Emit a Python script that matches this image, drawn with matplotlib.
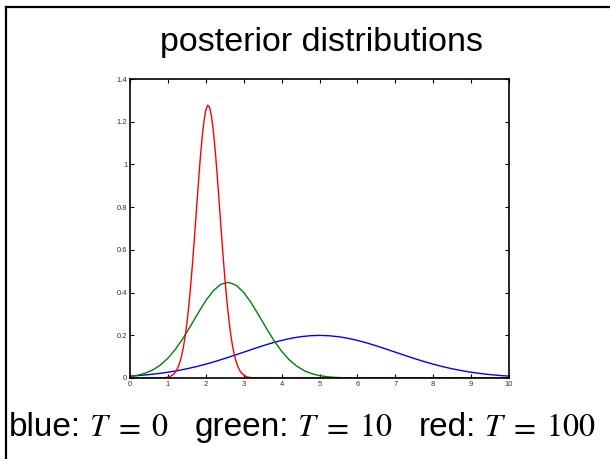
import numpy as np
import matplotlib
matplotlib.use("Agg")
import matplotlib.pyplot as plt
from matplotlib.lines import Line2D

plt.rcParams['font.family'] = ['Liberation Sans', 'DejaVu Sans']
plt.rcParams['mathtext.fontset'] = 'stix'

# values
blue_x = [0, 0.25, 0.5, 0.75, 1, 1.25, 1.5, 1.75, 2, 2.25, 2.5, 2.75, 3, 3.25, 3.5, 3.75,
          4, 4.25, 4.5, 4.75, 5, 5.25, 5.5, 5.75, 6, 6.25, 6.5, 6.75, 7, 7.25, 7.5, 7.75,
          8, 8.25, 8.5, 8.75, 9, 9.25, 9.5, 9.75, 10]
blue_y = [0.0088, 0.0119, 0.0159, 0.0209, 0.0270, 0.0344, 0.0432, 0.0533, 0.0648, 0.0775,
          0.0913, 0.1060, 0.1210, 0.1360, 0.1506, 0.1641, 0.1760, 0.1860, 0.1934, 0.1979,
          0.1995, 0.1979, 0.1934, 0.1860, 0.1760, 0.1641, 0.1506, 0.1360, 0.1210, 0.1060,
          0.0913, 0.0775, 0.0648, 0.0533, 0.0432, 0.0344, 0.0270, 0.0209, 0.0159, 0.0119, 0.0088]

green_x = [0, 0.2, 0.4, 0.6, 0.8, 1.0, 1.2, 1.4, 1.6, 1.8, 2.0, 2.2, 2.4, 2.6, 2.8, 3.0,
           3.2, 3.4, 3.6, 3.8, 4.0, 4.2, 4.4, 4.6, 4.8, 5.0, 5.2, 5.4, 5.6, 5.8, 6.0, 7, 8, 9, 10]
green_y = [0.0067, 0.0126, 0.0223, 0.0377, 0.0606, 0.0927, 0.1346, 0.1860, 0.2444, 0.3051,
           0.3623, 0.4089, 0.4390, 0.4479, 0.4345, 0.4008, 0.3515, 0.2930, 0.2323, 0.1751,
           0.1254, 0.0855, 0.0554, 0.0341, 0.0200, 0.0111, 0.0059, 0.0030, 0.0014, 0.0006,
           0.0002, 0, 0, 0, 0]

red_x = [0, 0.9, 1.0, 1.05, 1.1, 1.15, 1.2, 1.25, 1.3, 1.35, 1.4, 1.45, 1.5, 1.55, 1.6,
         1.65, 1.7, 1.75, 1.8, 1.85, 1.9, 1.95, 2.0, 2.05, 2.1, 2.15, 2.2, 2.25, 2.3, 2.35,
         2.4, 2.45, 2.5, 2.55, 2.6, 2.65, 2.7, 2.75, 2.8, 2.85, 2.9, 2.95, 3.0, 3.05, 3.1,
         3.2, 3.4, 10]
red_y = [0, 0.001, 0.0040, 0.0068, 0.0112, 0.0182, 0.0286, 0.0439, 0.0658, 0.0960, 0.1364,
         0.1890, 0.2552, 0.3360, 0.4311, 0.5389, 0.6568, 0.7801, 0.9032, 1.0190, 1.1205,
         1.2009, 1.2546, 1.2774, 1.2675, 1.2260, 1.1556, 1.0618, 0.9507, 0.8297, 0.7057,
         0.5852, 0.4728, 0.3723, 0.2857, 0.2138, 0.1559, 0.1108, 0.0768, 0.0518, 0.0341,
         0.0219, 0.0137, 0.0083, 0.0049, 0.0016, 0, 0]

x_ticks = [0, 1, 2, 3, 4, 5, 6, 7, 8, 9, 10]
y_ticks = [0, 0.2, 0.4, 0.6, 0.8, 1.0, 1.2, 1.4]
y_tick_labels = ['0', '0.2', '0.4', '0.6', '0.8', '1', '1.2', '1.4']

title = 'posterior distributions'
# caption pieces: (text, is_math, gap after in px)
caption = [('blue:', False, 8), ('$T$', True, 3), ('$=$', True, 10), ('$0$', True, 26),
           ('green:', False, 8), ('$T$', True, 3), ('$=$', True, 10), ('$10$', True, 26),
           ('red:', False, 8), ('$T$', True, 3), ('$=$', True, 10), ('$100$', True, 0)]

W, H = 610, 459
fig = plt.figure(figsize=(W / 100, H / 100), dpi=100)
ax = fig.add_axes([130 / W, 1 - 378 / H, 379 / W, 299 / H])

ax.plot(blue_x, blue_y, color='#0000ff', lw=1.0)
ax.plot(green_x, green_y, color='#008000', lw=1.0)
ax.plot(red_x, red_y, color='#ff0000', lw=1.0)

ax.set_xlim(0, 10)
ax.set_ylim(0, 1.4)
ax.set_xticks(x_ticks)
ax.set_yticks(y_ticks)
ax.set_yticklabels(y_tick_labels)
ax.tick_params(direction='in', length=3, width=0.8, top=True, right=True,
               labelsize=5.5, labelcolor='#333333', pad=2)
for s in ax.spines.values():
    s.set_linewidth(1.2)

fig.text(321 / W, 1 - 43 / H, title, ha='center', va='center', fontsize=24.5)

# lay the caption out piece by piece (sans words, serif math)
renderer = fig.canvas.get_renderer()
x = 9
for txt, is_math, gap in caption:
    t = fig.text(x / W, 1 - 436 / H, txt, ha='left', va='baseline',
                 fontsize=23 if is_math else 24)
    bb = t.get_window_extent(renderer)
    x += bb.width + gap

# slide frame (top and left edges)
fig.add_artist(Line2D([6 / W, 1], [1 - 7 / H, 1 - 7 / H], color='black', lw=1.6))
fig.add_artist(Line2D([6 / W, 6 / W], [1 - 7 / H, 0], color='black', lw=1.6))

fig.savefig('out.png', dpi=100)
